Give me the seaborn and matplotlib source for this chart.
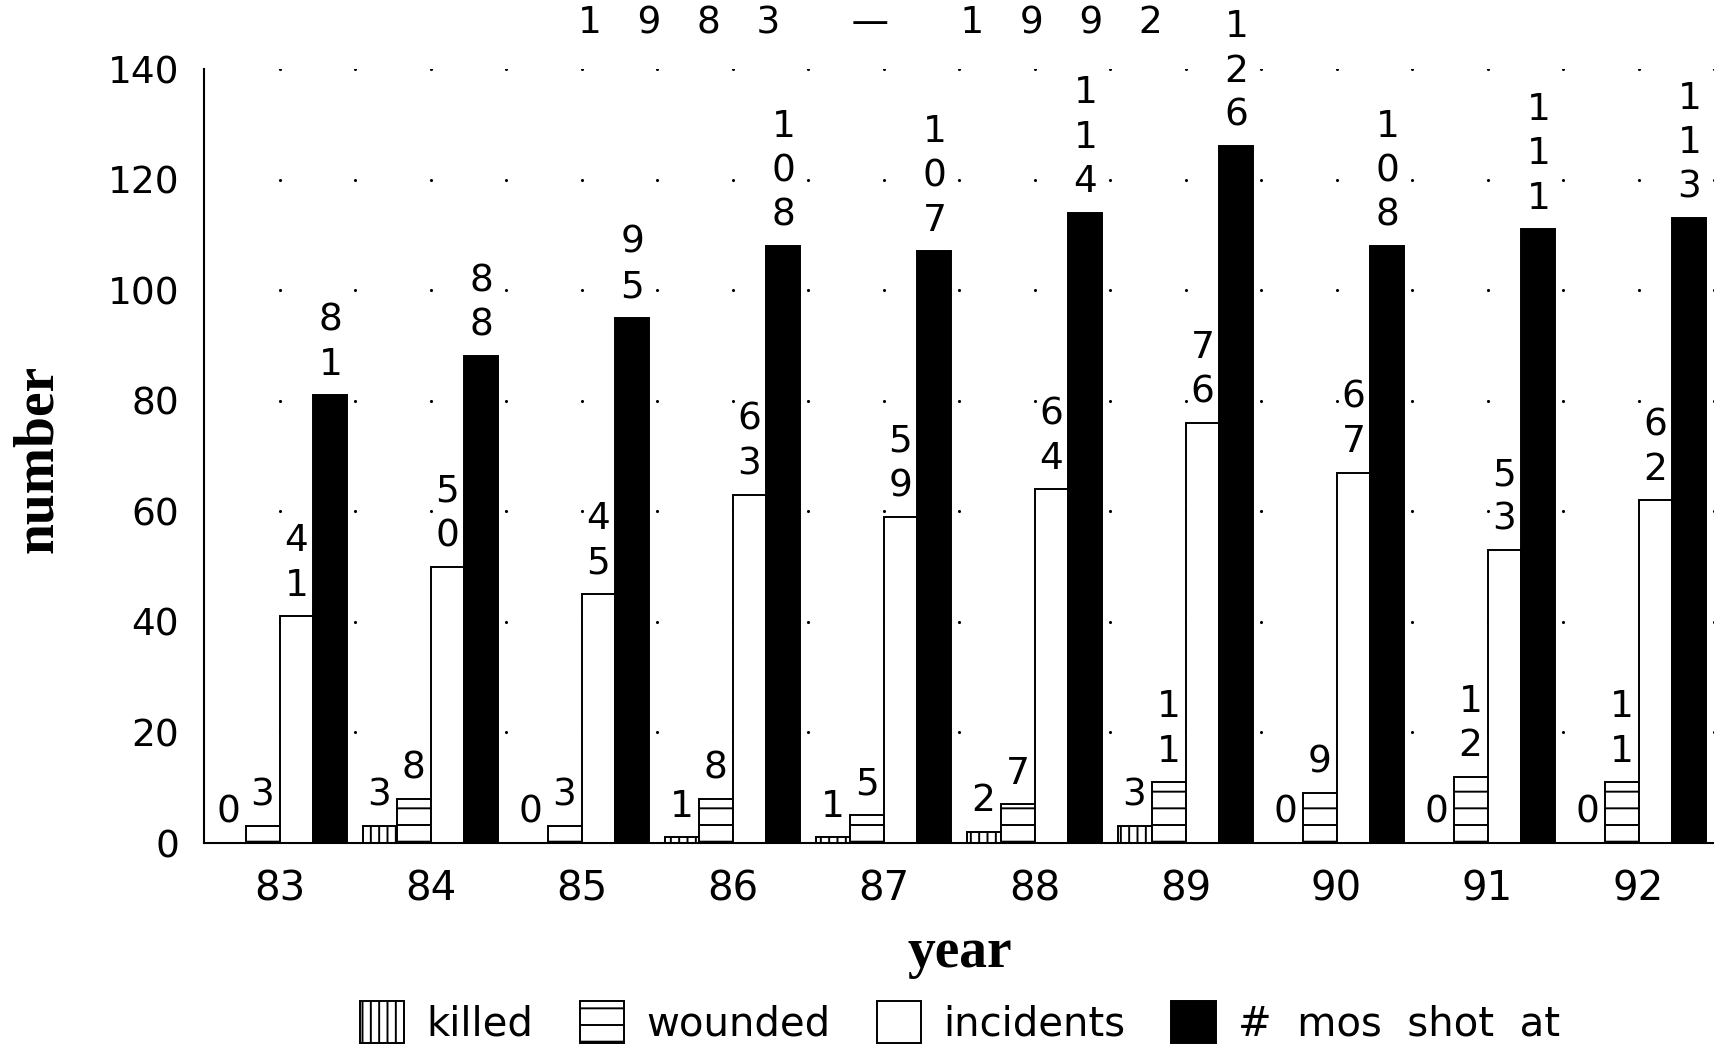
# Grouped bars 1983-1992: killed / wounded / incidents / # mos shot at
import numpy as np
import pandas as pd
import matplotlib
matplotlib.use('Agg')
import matplotlib.pyplot as plt
import matplotlib.patches as mpatches
import seaborn as sns

# --- data ---
years = ['83', '84', '85', '86', '87', '88', '89', '90', '91', '92']
killed = [0, 3, 0, 1, 1, 2, 3, 0, 0, 0]
wounded = [3, 8, 3, 8, 5, 7, 11, 9, 12, 11]
incidents = [41, 50, 45, 63, 59, 64, 76, 67, 53, 62]
mos_shot_at = [81, 88, 95, 108, 107, 114, 126, 108, 111, 113]

series_names = ['killed', 'wounded', 'incidents', '# mos shot at']
series_colors = ['white', 'white', 'white', 'black']
series_hatches = ['||', '-', '', '']
y_ticks = [0, 20, 40, 60, 80, 100, 120, 140]

# long table for seaborn
df = pd.DataFrame({
    'year': years * 4,
    'series': np.repeat(series_names, len(years)),
    'value': killed + wounded + incidents + mos_shot_at,
})

sns.set_theme(style='white')
plt.rcParams['font.family'] = ['DejaVu Sans']
plt.rcParams['text.color'] = 'black'
plt.rcParams['xtick.color'] = 'black'
plt.rcParams['ytick.color'] = 'black'
plt.rcParams['hatch.linewidth'] = 1.4
plt.rcParams['hatch.color'] = 'black'

fig = plt.figure(figsize=(17.14, 10.47), dpi=100)
ax = fig.add_axes([204 / 1714, 204 / 1047, 1510 / 1714, 774 / 1047])

# dotted lattice in the background (grid intersections every half year)
gx, gy = np.meshgrid(np.arange(0, len(years), 0.5), y_ticks[1:])
ax.scatter(gx.ravel(), gy.ravel(), s=5, color='black', linewidths=0, zorder=0)

sns.barplot(data=df, x='year', y='value', hue='series', hue_order=series_names,
            palette=series_colors, saturation=1, width=0.9, edgecolor='black',
            linewidth=1.4, errorbar=None, legend=False, ax=ax, zorder=2)

# hatches + stacked digit labels above each bar
for container, hatch in zip(ax.containers, series_hatches):
    for bar in container:
        bar.set_hatch(hatch)
        v = int(round(bar.get_height()))
        ax.annotate('\n'.join(str(v)),
                    xy=(bar.get_x() + bar.get_width() / 2, bar.get_height()),
                    xytext=(0, 9), textcoords='offset points',
                    ha='center', va='bottom', fontsize=27, linespacing=1.3,
                    annotation_clip=False)

ax.set_xlim(-0.5, len(years) - 0.5)
ax.set_ylim(0, 140)
ax.set_yticks(y_ticks)
ax.set_xticks(range(len(years)), years)
ax.set_xticks(np.arange(-0.5, len(years), 1.0), minor=True)
ax.tick_params(axis='x', which='major', length=0, labelsize=29, pad=19)
ax.tick_params(axis='x', which='minor', length=18, width=1.5, direction='out')
ax.tick_params(axis='y', length=10, width=1.5, direction='out', labelsize=27, pad=8)
ax.set_xlabel('')
ax.set_ylabel('')
for s in ['top', 'right']:
    ax.spines[s].set_visible(False)
for s in ['left', 'bottom']:
    ax.spines[s].set_color('black')
    ax.spines[s].set_linewidth(1.5)

# title sits right against the top edge
fig.text(870 / 1714, 1 - 34 / 1047, '1   9   8   3      —      1   9   9   2',
         ha='center', va='baseline', fontsize=27)

fig.text(38 / 1714, 1 - 459 / 1047, 'number', rotation=90, ha='center', va='center',
         fontsize=40, fontweight='bold', family='Liberation Serif')
fig.text(960 / 1714, 1 - 953 / 1047, 'year', ha='center', va='center',
         fontsize=40, fontweight='bold', family='Liberation Serif')

legend_labels = ['killed', 'wounded', 'incidents', '#  mos  shot  at']
handles = [mpatches.Patch(facecolor=c, edgecolor='black', hatch=h, linewidth=1.4, label=n)
           for n, c, h in zip(legend_labels, series_colors, series_hatches)]
fig.legend(handles=handles, loc='center', bbox_to_anchor=(960 / 1714, 24 / 1047),
           ncol=4, frameon=False, fontsize=29, handlelength=1.1, handleheight=1.2,
           handletextpad=0.55, columnspacing=1.15, borderaxespad=0)

plt.savefig('out.png', dpi=100)
